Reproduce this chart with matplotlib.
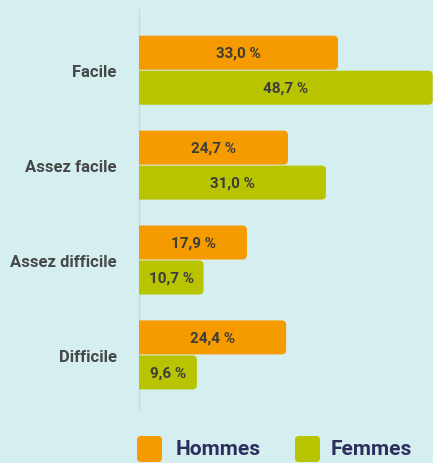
import matplotlib
matplotlib.use("Agg")
import matplotlib.pyplot as plt
from matplotlib.patches import FancyBboxPatch
from matplotlib.transforms import IdentityTransform

categories = ["Facile", "Assez facile", "Assez difficile", "Difficile"]
hommes = [33.0, 24.7, 17.9, 24.4]
femmes = [48.7, 31.0, 10.7, 9.6]
series_names = ["Hommes", "Femmes"]

BG = "#d5eff1"
ORANGE = "#f59b00"
GREEN = "#b9c400"
LABEL = "#484848"
VALUE = "#3c3c3c"
NAVY = "#2c2e5e"

plt.rcParams['font.family'] = ['Roboto', 'DejaVu Sans']

W, H = 433, 464
fig = plt.figure(figsize=(W / 100, H / 100), dpi=100, facecolor=BG)
ax = fig.add_axes([139 / W, 1 - 410 / H, (W - 139) / W, 400 / H])
ax.set_facecolor(BG)

xmax = 48.75
ylim_top, ylim_bot = -0.645, 3.57
ax.set_xlim(0, xmax)
ax.set_ylim(ylim_bot, ylim_top)

px_x = (W - 139) / xmax
px_y = 400 / (ylim_bot - ylim_top)
bh = 34 / px_y
gap = 1 / px_y
r_px = 4.5
rx = r_px / px_x
aspect = px_x / px_y

def fmt(v):
    return f"{v:.1f}".replace(".", ",") + " %"

for i, cat in enumerate(categories):
    for vals, col, off in ((hommes, ORANGE, -(bh + gap) / 2), (femmes, GREEN, (bh + gap) / 2)):
        v = vals[i]
        y0 = i + off - bh / 2
        p = FancyBboxPatch((-2, y0), v + 2, bh,
                           boxstyle=f"round,pad=0,rounding_size={rx}",
                           mutation_aspect=aspect, facecolor=col, edgecolor="none",
                           clip_on=True, zorder=3)
        ax.add_patch(p)
        ax.text(v / 2, i + off, fmt(v), ha="center", va="center",
                fontsize=11, fontweight="bold", color=VALUE, zorder=4)

ax.set_yticks(range(len(categories)))
ax.set_yticklabels(categories, fontsize=12, fontweight="bold", color=LABEL)
ax.tick_params(axis="y", length=0, pad=16)
ax.set_xticks([])
for s in ("top", "right", "bottom"):
    ax.spines[s].set_visible(False)
ax.spines["left"].set_color("#c4dedf")
ax.spines["left"].set_linewidth(1)
ax.spines["left"].set_zorder(2)

# legend
for (x0, col, name, tx) in ((137, ORANGE, series_names[0], 176), (295, GREEN, series_names[1], 331)):
    sq = FancyBboxPatch((x0, H - 463), 25, 26,
                        boxstyle="round,pad=0,rounding_size=4",
                        facecolor=col, edgecolor="none", transform=IdentityTransform())
    fig.add_artist(sq)
    fig.text(tx / W, 1 - 450 / H, name, ha="left", va="center",
             fontsize=15, fontweight="bold", color=NAVY)

fig.savefig("out.png", dpi=100, facecolor=BG)
